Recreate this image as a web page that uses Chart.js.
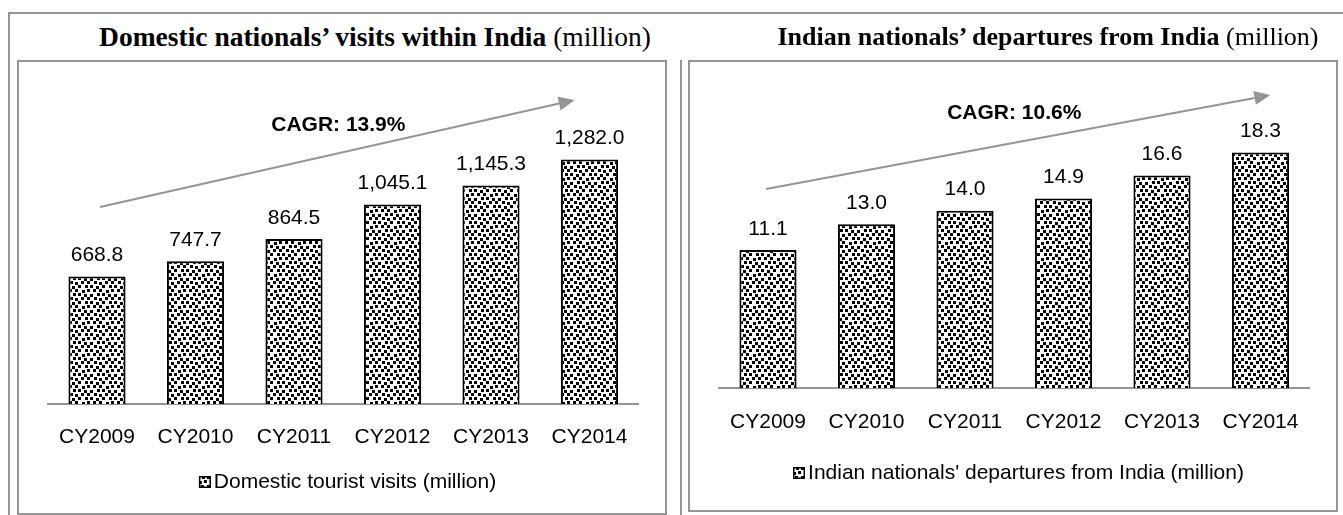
<!DOCTYPE html>
<html>
<head>
<meta charset="utf-8">
<script src="https://cdn.jsdelivr.net/npm/chart.js@4.4.0/dist/chart.umd.min.js"></script>
<style>
    body { margin: 0; width: 1343px; height: 515px; background: #fff; position: relative; overflow: hidden; }
    .line { position: absolute; background: #959595; }
    .box { position: absolute; border: 2px solid #959595; box-sizing: border-box; }
    .title { position: absolute; width: 700px; text-align: center; white-space: nowrap;
             font-family: 'Liberation Serif', 'Times New Roman', serif; color: #000; }
    canvas { position: absolute; }
</style>
</head>
<body>
<canvas id="domesticChart" width="648" height="453" style="left:18px;top:61px"></canvas>
<canvas id="departuresChart" width="648" height="450" style="left:689px;top:61px"></canvas>

<div class="line" style="left:8px;top:12px;width:1335px;height:2px"></div>
<div class="line" style="left:8px;top:12px;width:2px;height:503px"></div>
<div class="line" style="left:680px;top:60px;width:2px;height:455px"></div>
<div class="box" style="left:17px;top:60px;width:650px;height:455px"></div>
<div class="box" style="left:688px;top:60px;width:650px;height:452px"></div>

<div class="title" style="left:25px;top:23px;font-size:27.5px;line-height:27.5px"><b>Domestic nationals’ visits within India</b> (million)</div>
<div class="title" style="left:698px;top:24px;font-size:26px;line-height:26px"><b>Indian nationals’ departures from India</b> (million)</div>

<script>
    const years = ['CY2009', 'CY2010', 'CY2011', 'CY2012', 'CY2013', 'CY2014'];
    const domesticVisits = [668.8, 747.7, 864.5, 1045.1, 1145.3, 1282.0];
    const departures = [11.1, 13.0, 14.0, 14.9, 16.6, 18.3];

    const domesticRange = [0, 1600];
    const departuresRange = [0.9, 23];

    const domesticCagr = 'CAGR: 13.9%';
    const departuresCagr = 'CAGR: 10.6%';

    // arrow start / end and label anchor, in (category index, value)
    const domesticArrow = [[0.03, 1032], [4.85, 1593]];
    const departuresArrow = [[-0.02, 15.6], [5.1, 22.54]];
    const domesticCagrAt = [2.45, 1462];
    const departuresCagrAt = [2.5, 21.2];

    const FONT = 'Arial, "Liberation Sans", sans-serif';
    const GREY = '#959595';

    // dotted fill like the excel pattern
    function makePattern() {
        const tile = document.createElement('canvas');
        tile.width = 24;
        tile.height = 16;
        const t = tile.getContext('2d');
        t.fillStyle = '#fff';
        t.fillRect(0, 0, 24, 16);
        t.fillStyle = '#000';
        const dots = [
            [0, 0], [6, 1], [12, 0], [19, 0],
            [3, 4], [9, 4], [16, 5], [21, 4],
            [0, 9], [7, 8], [12, 8], [18, 9],
            [4, 12], [9, 13], [15, 12], [21, 12]
        ];
        dots.forEach(p => t.fillRect(p[0], p[1], 3, 3));
        return t.createPattern(tile, 'repeat');
    }
    const pattern = makePattern();

    // legend marker, drawn at the right end of the image so it sits close to the text
    function makeMarker() {
        const c = document.createElement('canvas');
        c.width = 28;
        c.height = 12;
        const m = c.getContext('2d');
        m.fillStyle = pattern;
        m.fillRect(16, 0, 12, 12);
        m.strokeStyle = '#000';
        m.lineWidth = 1.5;
        m.strokeRect(16.75, 0.75, 10.5, 10.5);
        return c;
    }
    const marker = makeMarker();

    function valueLabels(format) {
        return {
            id: 'valueLabels',
            afterDatasetsDraw(chart) {
                const ctx = chart.ctx;
                const values = chart.data.datasets[0].data;
                ctx.save();
                ctx.font = '21px ' + FONT;
                ctx.fillStyle = '#000';
                ctx.textAlign = 'center';
                ctx.textBaseline = 'middle';
                chart.getDatasetMeta(0).data.forEach((bar, i) => {
                    ctx.fillText(format(values[i]), bar.x, bar.y - 21);
                });
                ctx.restore();
            }
        };
    }

    function cagrArrow(arrow, text, at) {
        return {
            id: 'cagrArrow',
            afterDraw(chart) {
                const ctx = chart.ctx;
                const x = chart.scales.x;
                const y = chart.scales.y;
                const x1 = x.getPixelForValue(arrow[0][0]);
                const y1 = y.getPixelForValue(arrow[0][1]);
                const x2 = x.getPixelForValue(arrow[1][0]);
                const y2 = y.getPixelForValue(arrow[1][1]);
                const ang = Math.atan2(y2 - y1, x2 - x1);
                const head = 16;
                const bx = x2 - head * Math.cos(ang);
                const by = y2 - head * Math.sin(ang);
                ctx.save();
                ctx.strokeStyle = GREY;
                ctx.fillStyle = GREY;
                ctx.lineWidth = 2;
                ctx.beginPath();
                ctx.moveTo(x1, y1);
                ctx.lineTo(bx, by);
                ctx.stroke();
                ctx.beginPath();
                ctx.moveTo(x2, y2);
                ctx.lineTo(bx + 7 * Math.sin(ang), by - 7 * Math.cos(ang));
                ctx.lineTo(bx - 7 * Math.sin(ang), by + 7 * Math.cos(ang));
                ctx.closePath();
                ctx.fill();

                ctx.font = 'bold 21px ' + FONT;
                ctx.fillStyle = '#000';
                ctx.textAlign = 'center';
                ctx.textBaseline = 'middle';
                ctx.fillText(text, x.getPixelForValue(at[0]), y.getPixelForValue(at[1]));
                ctx.restore();
            }
        };
    }

    function drawChart(id, label, values, range, format, arrow, text, at, lay) {
        return new Chart(document.getElementById(id).getContext('2d'), {
            type: 'bar',
            data: {
                labels: years,
                datasets: [{
                    label: label,
                    data: values,
                    backgroundColor: pattern,
                    borderColor: '#000',
                    borderWidth: 2,
                    barPercentage: 0.58,
                    categoryPercentage: 1
                }]
            },
            options: {
                responsive: false,
                animation: false,
                layout: { padding: { left: 29.75, right: 27.25, top: lay.top, bottom: lay.bottom } },
                scales: {
                    x: {
                        grid: { display: false, drawTicks: false, tickLength: 0 },
                        border: { display: true, color: GREY, width: 2 },
                        ticks: { color: '#000', padding: lay.tickPad, font: { size: 21, family: FONT } }
                    },
                    y: { display: false, min: range[0], max: range[1] }
                },
                plugins: {
                    legend: {
                        position: 'bottom',
                        labels: {
                            color: '#000',
                            usePointStyle: true,
                            pointStyle: marker,
                            pointStyleWidth: 13,
                            boxHeight: 13,
                            padding: lay.legendPad,
                            font: { size: 21, family: FONT }
                        }
                    },
                    tooltip: { enabled: false }
                }
            },
            plugins: [valueLabels(format), cagrArrow(arrow, text, at)]
        });
    }

    drawChart('domesticChart', 'Domestic tourist visits (million)', domesticVisits, domesticRange,
        v => v.toLocaleString('en-US', { minimumFractionDigits: 1, maximumFractionDigits: 1 }),
        domesticArrow, domesticCagr, domesticCagrAt,
        { top: 37.7, bottom: 11.5, tickPad: 20.4, legendPad: 1.5 });

    drawChart('departuresChart', "Indian nationals' departures from India (million)", departures, departuresRange,
        v => v.toFixed(1),
        departuresArrow, departuresCagr, departuresCagrAt,
        { top: 27.8, bottom: 17.5, tickPad: 21.4, legendPad: 6.5 });
</script>
</body>
</html>
